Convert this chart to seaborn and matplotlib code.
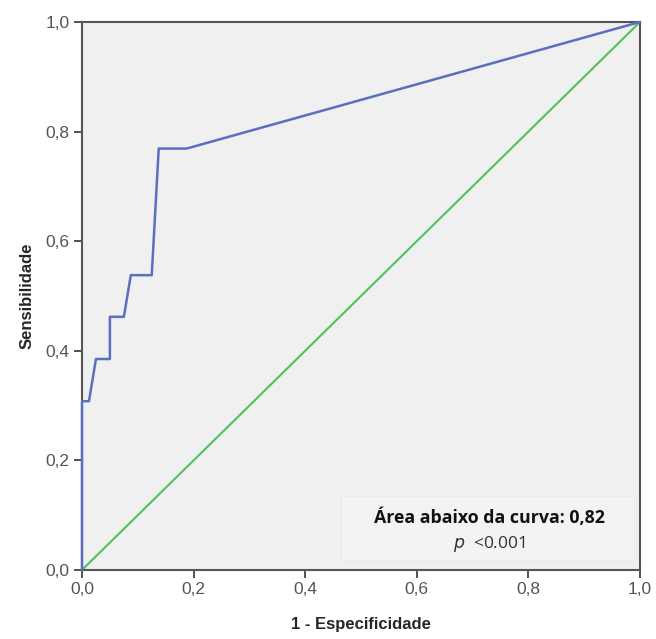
import matplotlib
matplotlib.use("Agg")
import matplotlib.pyplot as plt
import seaborn as sns
import pandas as pd

# ROC curve
fpr = [0.0, 0.0, 0.0125, 0.025, 0.05, 0.05, 0.075, 0.0875, 0.125, 0.1375, 0.1875, 1.0]
tpr = [0.0, 0.308, 0.308, 0.385, 0.385, 0.462, 0.462, 0.538, 0.538, 0.769, 0.769, 1.0]
ref_x = [0.0, 1.0]
ref_y = [0.0, 1.0]
tick_vals = [0.0, 0.2, 0.4, 0.6, 0.8, 1.0]
tick_labels = ["0,0", "0,2", "0,4", "0,6", "0,8", "1,0"]

sns.set_style("ticks")
plt.rcParams["font.family"] = ["Liberation Sans", "DejaVu Sans"]

fig = plt.figure(figsize=(6.56, 6.39), dpi=100)
ax = fig.add_axes([0.125, 0.108, 0.8506, 0.8576])
ax.set_facecolor("#f0f0f0")

roc = pd.DataFrame({"x": fpr, "y": tpr})
diag = pd.DataFrame({"x": ref_x, "y": ref_y})
sns.lineplot(data=diag, x="x", y="y", sort=False, estimator=None,
             color="#4fc25a", linewidth=1.5, ax=ax)
sns.lineplot(data=roc, x="x", y="y", sort=False, estimator=None,
             color="#5b6fbf", linewidth=1.8, ax=ax, zorder=3, clip_on=False)

ax.set_xlim(0, 1)
ax.set_ylim(0, 1)
ax.set_xticks(tick_vals)
ax.set_xticklabels(tick_labels)
ax.set_yticks(tick_vals)
ax.set_yticklabels(tick_labels)
ax.tick_params(direction="out", length=6, width=1.3, color="#444444",
               labelcolor="#555555", labelsize=12.5, pad=3)
for s in ax.spines.values():
    s.set_color("#555555")
    s.set_linewidth(1.5)

ax.set_xlabel("1 - Especificidade", fontsize=12, fontweight="bold", labelpad=14)
ax.set_ylabel("Sensibilidade", fontsize=12, fontweight="bold", labelpad=8)

# annotation box
box = plt.Rectangle((0.465, 0.018), 0.525, 0.117, transform=ax.transAxes,
                    facecolor="#f3f3f3", edgecolor="#ebebeb", linewidth=0.8, zorder=1)
ax.add_patch(box)
ax.text(0.73, 0.095, "Área abaixo da curva: 0,82", transform=ax.transAxes,
        ha="center", va="center", fontsize=12.8, fontweight="bold",
        family=["Open Sans", "DejaVu Sans"], color="#111111")
ax.text(0.73, 0.047, "$\\it{p}$  <0.001", transform=ax.transAxes,
        ha="center", va="center", fontsize=12.5,
        family=["Open Sans", "DejaVu Sans"], color="#333333")

fig.savefig("out.png", dpi=100)
